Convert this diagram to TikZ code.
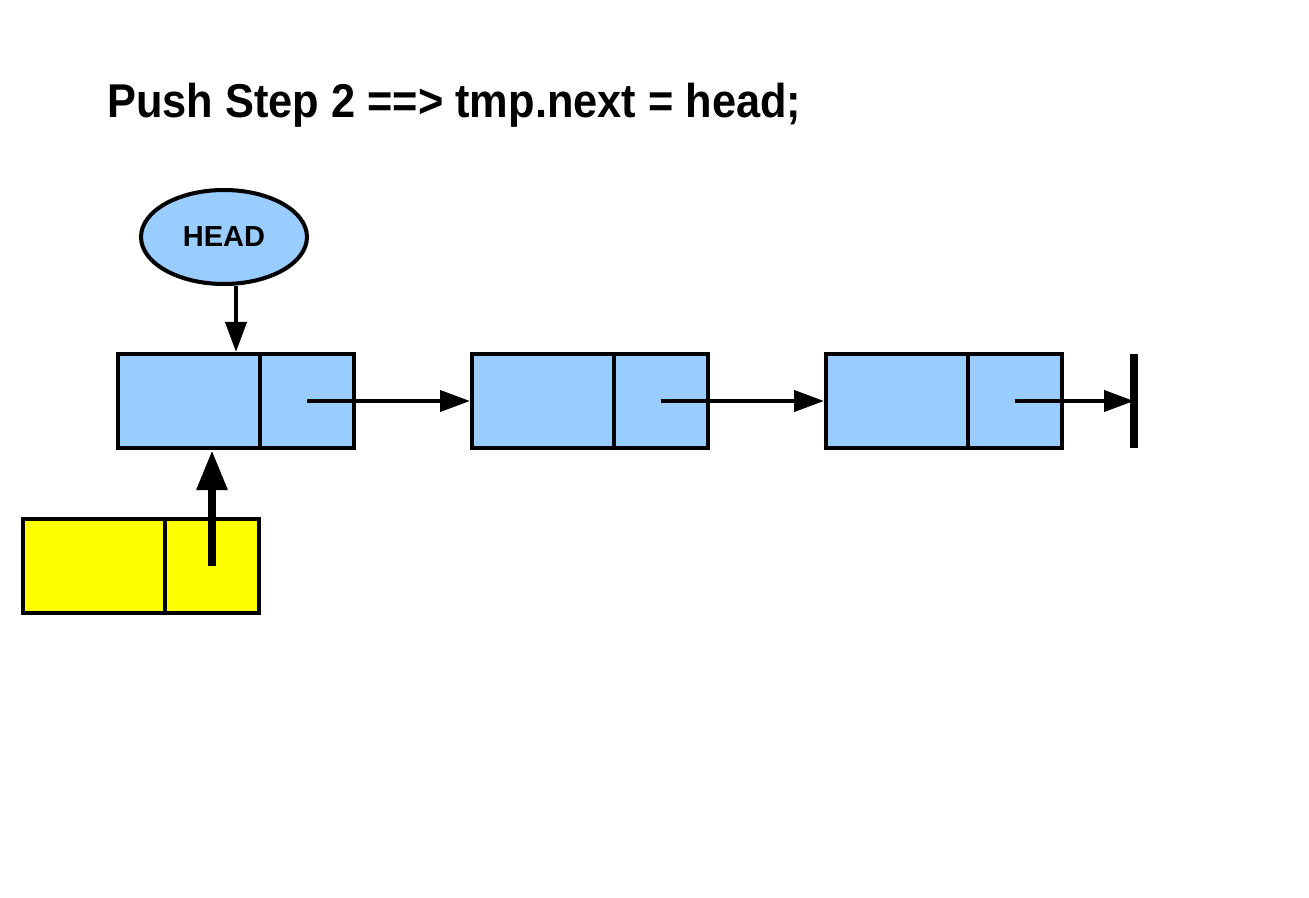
\documentclass[tikz,border=0pt]{standalone}
\usepackage{xcolor}
\usepackage{graphicx}
\usepackage{fontspec}
\setmainfont{Liberation Sans}
\usepackage{tikz}
\usetikzlibrary{arrows, arrows.meta, shapes.geometric}

\definecolor{nodeblue}{HTML}{99CCFF}
\definecolor{tmpyellow}{HTML}{FFFF00}

\begin{document}
\begin{tikzpicture}[x=0.02cm, y=-0.02cm,
  cell/.style={draw=black, line width=2.3pt, inner sep=0pt, minimum height=1.88cm},
  datacell/.style={cell, minimum width=2.84cm},
  ptrcell/.style={cell, minimum width=1.88cm},
  ptr/.style={line width=2.3pt, -{Triangle[length=0.6cm, width=0.42cm]}},
  bigptr/.style={line width=5pt, -{Triangle[length=0.8cm, width=0.58cm]}}]
\useasboundingbox (0,0) rectangle (1309,898);
% title
\node[anchor=base west, inner sep=0pt] (title) at (107,118) {\scalebox{0.914}[1]{\fontsize{27}{32}\selectfont\bfseries Push Step 2 ==> tmp.next = head;}};
% head pointer
\node[ellipse, draw=black, line width=2.3pt, fill=nodeblue, minimum width=3.32cm, minimum height=1.88cm, inner sep=0pt] (head) at (224,237) {\fontsize{16.5}{18}\selectfont\bfseries HEAD};
% list nodes
\node[datacell, fill=nodeblue] (n1d) at (189,401) {};
\node[ptrcell, fill=nodeblue] (n1p) at (307,401) {};
\node[datacell, fill=nodeblue] (n2d) at (543,401) {};
\node[ptrcell, fill=nodeblue] (n2p) at (661,401) {};
\node[datacell, fill=nodeblue] (n3d) at (897,401) {};
\node[ptrcell, fill=nodeblue] (n3p) at (1015,401) {};
\coordinate (nil) at (1134,401);
\draw[line width=5pt] (1134,354) -- (1134,448);
% new node tmp
\node[datacell, fill=tmpyellow] (tmpd) at (94,566) {};
\node[ptrcell, fill=tmpyellow] (tmpp) at (212,566) {};
% links
\draw[ptr] ([xshift=0.24cm]head.south) -- ([xshift=0.24cm]head.south |- n1d.north);
\draw[ptr] (n1p.center) -- (n2d.west);
\draw[ptr] (n2p.center) -- (n3d.west);
\draw[ptr] (n3p.center) -- (nil);
\draw[bigptr] (tmpp.center) -- (tmpp.center |- n1d.south);
\end{tikzpicture}
\end{document}
